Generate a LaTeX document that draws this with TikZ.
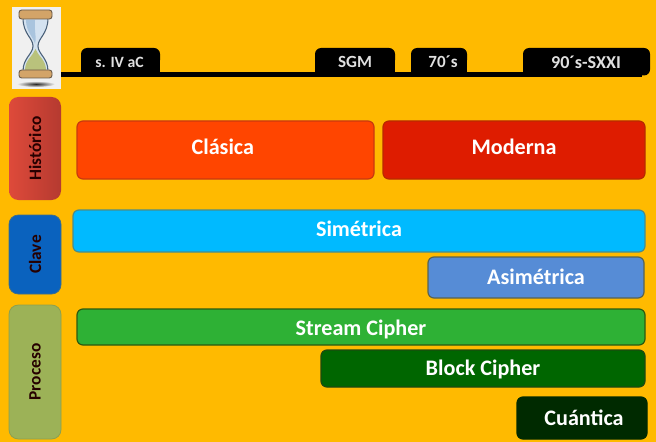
\documentclass[tikz,border=0pt]{standalone}
\usepackage{fontspec}
\setmainfont{Carlito}
\definecolor{bgc}{HTML}{FFBA00}
\definecolor{cla}{HTML}{FF4500}
\definecolor{mod}{HTML}{DE1C00}
\definecolor{sim}{HTML}{00BAFF}
\definecolor{asi}{HTML}{568CD6}
\definecolor{str}{HTML}{2EB135}
\definecolor{blo}{HTML}{006600}
\definecolor{cua}{HTML}{002A00}
\definecolor{cla2}{HTML}{C83A10}
\definecolor{mod2}{HTML}{B82A00}
\definecolor{sim2}{HTML}{4C8C88}
\definecolor{asi2}{HTML}{5A6450}
\definecolor{str2}{HTML}{2C5A10}
\definecolor{blo2}{HTML}{1E4A10}
\definecolor{his1}{HTML}{DE4A3A}
\definecolor{his2}{HTML}{B53A30}
\definecolor{cla3}{HTML}{0A62BE}
\definecolor{cla4}{HTML}{3C6E8C}
\definecolor{pro1}{HTML}{9CB257}
\definecolor{pro2}{HTML}{8CA050}
\definecolor{glass}{HTML}{D4E2F0}
\definecolor{glass2}{HTML}{A9C4DE}
\definecolor{sand}{HTML}{B9C27C}
\definecolor{capc}{HTML}{D3A468}
\definecolor{capd}{HTML}{6A5A48}
\definecolor{gld}{HTML}{4A6078}
\tikzset{x=0.75pt,y=-0.75pt,
 bar/.style={draw=#1,line width=0.9pt,rounded corners=4.5pt,inner sep=0pt,text=white,font=\bfseries\fontsize{16.6}{18}\selectfont},
 tab/.style={fill=black,draw=none},
 tablabel/.style={text=white!88!black,font=\bfseries\fontsize{#1}{12}\selectfont,inner sep=0pt},
 side/.style={rounded corners=7pt,line width=0.6pt,inner sep=0pt,text=black!85!red,font=\bfseries\fontsize{13}{14}\selectfont}}
% name, x0, y0, x1, y1, options, text
\newcommand{\bx}[7]{%
 \pgfmathsetmacro{\bxw}{(#4-#2)*0.75}\pgfmathsetmacro{\bxh}{(#5-#3)*0.75}%
 \node[#6,minimum width=\bxw pt,minimum height=\bxh pt,anchor=center] (#1) at ({(#2+#4)/2},{(#3+#5)/2}) {#7};}
\newcommand{\sd}[7]{%
 \pgfmathsetmacro{\bxw}{(#5-#3)*0.75}\pgfmathsetmacro{\bxh}{(#4-#2)*0.75}%
 \node[#6,rotate=90,minimum width=\bxw pt,minimum height=\bxh pt,anchor=center] (#1) at ({(#2+#4)/2},{(#3+#5)/2}) {#7};}
\newcommand{\tabshape}[2]{%
 \fill[tab,rounded corners=4.5pt] (#1,48) rectangle (#2,66);
 \fill[tab] (#1,56) rectangle (#2,75);}
\newcommand{\lbl}[2]{\raisebox{-#1pt}[0pt][0pt]{#2}}
\begin{document}
\begin{tikzpicture}
\useasboundingbox (0,0) rectangle (656,442);
\fill[bgc] (0,0) rectangle (656,442);
% hourglass panel
\fill[white!94!black] (12,7) rectangle (61,89);
\shade[inner color=black!85,outer color=white!94!black] (36,84) ellipse (19 and 3);
\filldraw[fill=glass,draw=gld,line width=0.8pt] (23,18) .. controls (23,34) and (33,38) .. (33,46) .. controls (33,54) and (23,58) .. (23,71) -- (48,71) .. controls (48,58) and (38,54) .. (38,46) .. controls (38,38) and (48,34) .. (48,18) -- cycle;
\fill[glass2] (26,20) .. controls (26,32) and (34,38) .. (35,44) .. controls (37,38) and (34,32) .. (35,20) -- cycle;
\fill[sand] (25,70) .. controls (25,60) and (33,56) .. (35.5,49) .. controls (38,56) and (46,60) .. (46,70) -- cycle;
\filldraw[fill=capc,draw=capd,line width=0.7pt,rounded corners=2pt] (19,10) rectangle (52,19);
\filldraw[fill=capc,draw=capd,line width=0.7pt,rounded corners=2pt] (19,70) rectangle (52,78);
% timeline
\coordinate (tlstart) at (61,74.5);
\coordinate (tlend) at (642,74.5);
\tabshape{81}{160}
\tabshape{315}{395}
\tabshape{411}{467}
\fill[tab,rounded corners=4.5pt] (523,48) rectangle (650,75.5);
\fill[tab] (523,60) rectangle (600,75);
\draw[line width=3.6pt,black] (tlstart) -- (tlend);
\node[tablabel=11.8] (t1) at (119.5,62) {s. IV aC};
\node[tablabel=12.8] (t2) at (355,62) {SGM};
\node[tablabel=12.8] (t3) at (443,62) {70´s};
\node[tablabel=13.6] (t4) at (586,62) {90´s-SXXI};
% side labels
\shade[rounded corners=7pt,left color=his1,right color=his2] (9,97) rectangle (61,200);
\sd{hist}{9}{97}{61}{200}{side}{Histórico}
\sd{clave}{9}{215}{61}{294}{side,fill=cla3,draw=cla4}{Clave}
\sd{proc}{9}{305}{61}{439}{side,fill=pro1,draw=pro2}{Proceso}
% bars
\bx{clasica}{77}{121}{374}{179}{bar=cla2,fill=cla}{\hspace{-4pt}\lbl{3.4}{Clásica}}
\bx{moderna}{383}{121}{645}{179}{bar=mod2,fill=mod}{\lbl{3.4}{Moderna}}
\bx{simetrica}{73}{210}{645}{252}{bar=sim2,fill=sim}{\lbl{4.3}{Simétrica}}
\bx{asimetrica}{428}{257}{644}{298}{bar=asi2,fill=asi}{\lbl{5.6}{Asimétrica}}
\bx{stream}{77}{309}{645}{345}{bar=str2,fill=str}{\lbl{6}{Stream Cipher}}
\bx{block}{321}{350}{645}{387}{bar=blo2,fill=blo}{\lbl{4.9}{Block Cipher}}
\bx{cuantica}{517}{397}{647}{439}{bar=cua,fill=cua}{\hspace{3pt}\lbl{5.8}{Cuántica}}
\end{tikzpicture}
\end{document}
